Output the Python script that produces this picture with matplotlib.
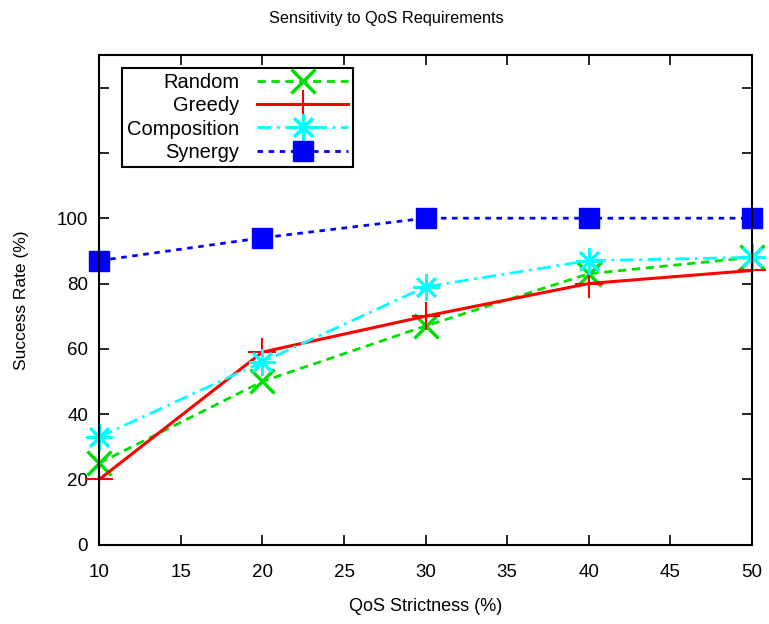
import matplotlib
matplotlib.use("Agg")
import matplotlib.pyplot as plt

plt.rcParams['font.family'] = ['Liberation Sans', 'DejaVu Sans']

strictness = [10, 20, 30, 40, 50]
random_rate = [25, 50, 67, 83, 88]
greedy_rate = [20, 59, 70, 80, 84]
composition_rate = [33, 56, 79, 87, 88]
synergy_rate = [87, 94, 100, 100, 100]

fig = plt.figure(figsize=(7.69, 6.24), dpi=100)
ax = fig.add_axes([0.129, 0.127, 0.849, 0.785])

ax.plot(strictness, random_rate, color='#00e000', linestyle=(0, (3, 2)), lw=2,
        marker='x', ms=17, mew=2.5, label='Random', clip_on=False)
ax.plot(strictness, greedy_rate, color='red', linestyle='-', lw=2.2,
        marker='+', ms=20, mew=1.5, label='Greedy', clip_on=False)
ax.plot(strictness, composition_rate, color='cyan', linestyle=(0, (5, 2, 1, 2)), lw=2,
        marker=(8, 2, 0), ms=19, mew=2, label='Composition', clip_on=False)
ax.plot(strictness, synergy_rate, color='blue', linestyle=(0, (2, 2)), lw=2,
        marker='s', ms=14, label='Synergy', clip_on=False)

ax.set_xlim(10, 50)
ax.set_ylim(0, 150)
ax.set_xticks(range(10, 51, 5))
ax.set_yticks(range(0, 141, 20))
ax.set_yticklabels([str(v) if v <= 100 else '' for v in range(0, 141, 20)])
ax.tick_params(direction='in', length=7, width=1.2, top=True, right=True,
               labelsize=13.5, pad=8)
ax.tick_params(axis='x', pad=14)
for s in ax.spines.values():
    s.set_linewidth(1.5)

# gnuplot centres the title on the whole canvas
fig.text(0.503, 0.971, 'Sensitivity to QoS Requirements', fontsize=11.7,
         ha='center', va='center')
ax.set_xlabel('QoS Strictness (%)', fontsize=13, labelpad=12)
ax.set_ylabel('Success Rate (%)', fontsize=12.5, labelpad=20)

leg = ax.legend(loc='upper left', bbox_to_anchor=(0.035, 0.974), markerfirst=False,
                fontsize=14.5, handlelength=4.5, labelspacing=0.22, borderpad=0.25,
                handletextpad=0.9, borderaxespad=0, fancybox=False, framealpha=1,
                edgecolor='black')
leg.get_frame().set_linewidth(1.5)

fig.savefig('out.png', dpi=100)
